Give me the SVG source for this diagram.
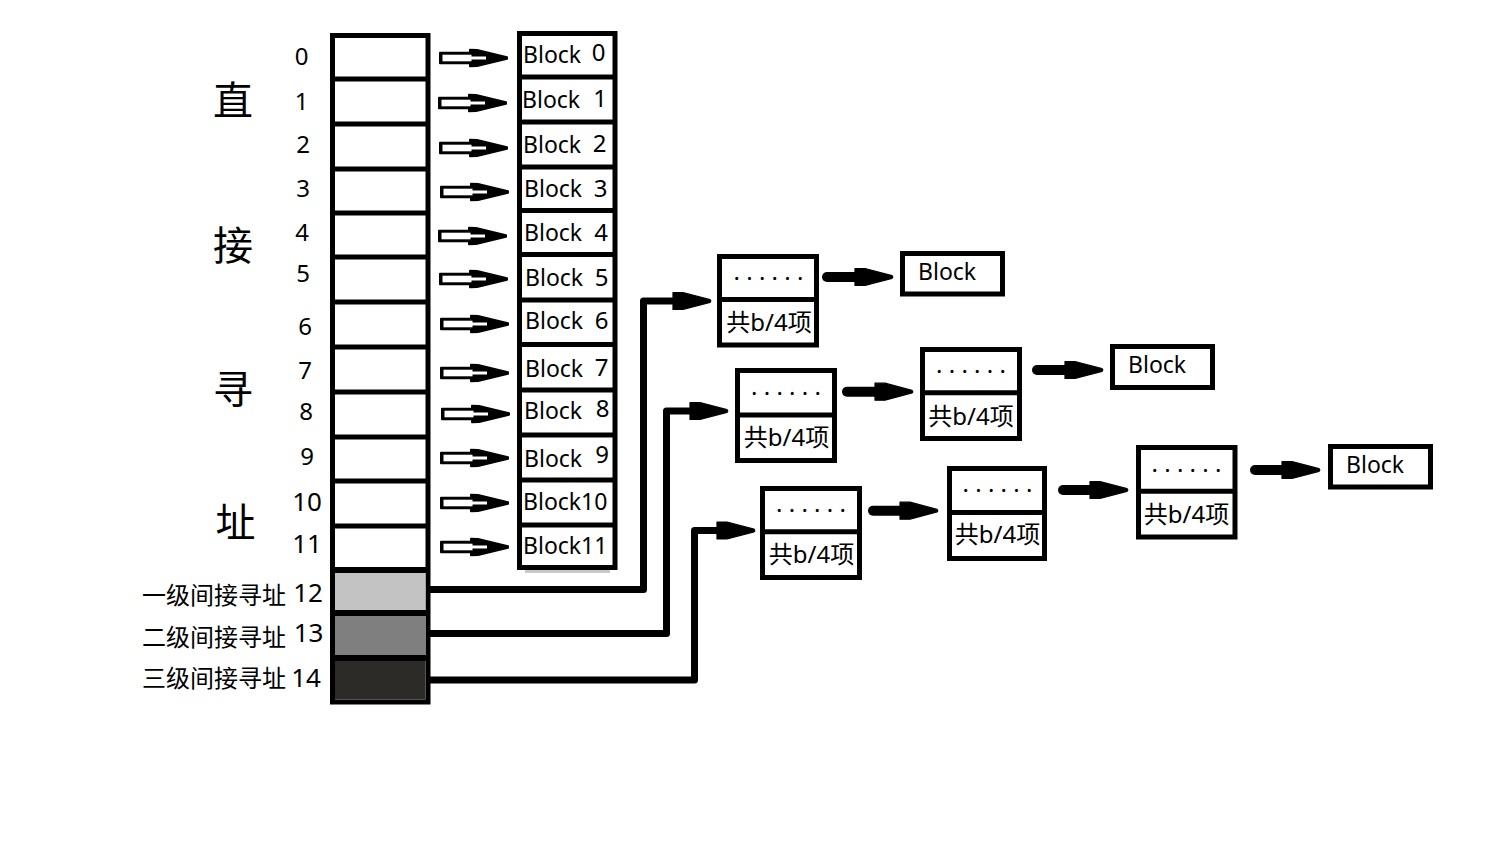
<svg xmlns="http://www.w3.org/2000/svg" width="1489" height="844" viewBox="0 0 1489 844">
<style>
.cell{fill:#fff;stroke:#000;stroke-width:5}
.div{stroke:#000;stroke-width:5}
.t{font-family:"Noto Sans","Noto Sans CJK SC",sans-serif;fill:#000}
.blk{font-size:23px}
.num{font-size:24px;text-anchor:middle}
.num2{font-size:26px;text-anchor:middle}
.big{font-family:"Noto Sans CJK SC",sans-serif;font-size:40px;text-anchor:middle;dominant-baseline:central}
.lbl{font-family:"Noto Sans CJK SC",sans-serif;font-size:24px}
.dots{font-size:24px;text-anchor:middle}
.cnt{font-size:24px;text-anchor:middle}
.elbow{fill:none;stroke:#000;stroke-width:7;stroke-linejoin:round;marker-end:url(#head)}
.thick{fill:none;stroke:#000;stroke-width:10;stroke-linecap:round;marker-end:url(#head)}
</style>
<defs>
<marker id="head" markerUnits="userSpaceOnUse" viewBox="-1 -10 42 20" refX="0" refY="0" markerWidth="42" markerHeight="20" orient="auto">
<path d="M0,-8.5 L10,-8.5 L37,-1.3 Q38.5,0 37,1.3 L10,8.5 L0,8.5 Z" fill="#000" stroke="#000" stroke-width="1.2" stroke-linejoin="round"/>
</marker>
<g id="harrow">
<path d="M1,-5.3 L31,-5.3 L31,-8.3 L38,-8 L68,-0.8 L68,0.8 L38,8 L31,8.3 L31,5.3 L1,5.3 Z" fill="#000" stroke="#000" stroke-width="2" stroke-linejoin="round"/>
<rect x="3.5" y="-3.3" width="29" height="6.6" fill="#fff"/>
<rect x="30" y="-1.5" width="17" height="3" fill="#fff"/>
</g>
</defs>
<rect width="1489" height="844" fill="#fff"/>

<g id="side-labels">
<text class="big" x="233" y="97.5">直</text>
<text class="big" x="233" y="242.5">接</text>
<text class="big" x="233" y="386.5">寻</text>
<text class="big" x="235.5" y="520">址</text>
<text class="t num" x="301.5" y="65">0</text>
<text class="t num" x="301.5" y="110">1</text>
<text class="t num" x="303" y="153">2</text>
<text class="t num" x="303" y="197">3</text>
<text class="t num" x="302" y="241">4</text>
<text class="t num" x="303" y="282">5</text>
<text class="t num" x="305" y="335">6</text>
<text class="t num" x="305" y="379">7</text>
<text class="t num" x="306" y="420">8</text>
<text class="t num" x="307" y="465">9</text>
<text class="t num2" x="307" y="511">10</text>
<text class="t num2" x="307" y="553">11</text>
<text class="lbl" x="142" y="604">一级间接寻址</text>
<text class="lbl" x="142" y="646">二级间接寻址</text>
<text class="lbl" x="142" y="687">三级间接寻址</text>
<text class="t num2" x="308" y="602">12</text>
<text class="t num2" x="308.5" y="642">13</text>
<text class="t num2" x="306" y="687">14</text>
</g>

<g id="inode">
<rect class="cell" x="332.5" y="35.5" width="95.5" height="666.5"/>
<rect x="335" y="570" width="90.5" height="43" fill="#c3c3c3"/>
<rect x="335" y="613" width="90.5" height="45" fill="#7f7f7f"/>
<rect x="335" y="658" width="90.5" height="41.5" fill="#2d2b27"/>
<g class="div">
<line x1="332.5" y1="79" x2="428" y2="79"/>
<line x1="332.5" y1="124" x2="428" y2="124"/>
<line x1="332.5" y1="169" x2="428" y2="169"/>
<line x1="332.5" y1="213" x2="428" y2="213"/>
<line x1="332.5" y1="257" x2="428" y2="257"/>
<line x1="332.5" y1="302" x2="428" y2="302"/>
<line x1="332.5" y1="347" x2="428" y2="347"/>
<line x1="332.5" y1="392" x2="428" y2="392"/>
<line x1="332.5" y1="437" x2="428" y2="437"/>
<line x1="332.5" y1="481" x2="428" y2="481"/>
<line x1="332.5" y1="526" x2="428" y2="526"/>
<line x1="332.5" y1="570" x2="428" y2="570" stroke-width="6"/>
<line x1="332.5" y1="613" x2="428" y2="613" stroke-width="6"/>
<line x1="332.5" y1="658" x2="428" y2="658" stroke-width="6"/>
</g>
</g>

<g id="direct-blocks">
<rect x="525" y="570" width="85" height="3" fill="#c8c8c8"/>
<rect class="cell" x="519.5" y="33.5" width="95.5" height="534"/>
<g class="div">
<line x1="519.5" y1="77" x2="615" y2="77"/>
<line x1="519.5" y1="122" x2="615" y2="122"/>
<line x1="519.5" y1="167" x2="615" y2="167"/>
<line x1="519.5" y1="210.5" x2="615" y2="210.5"/>
<line x1="519.5" y1="254.5" x2="615" y2="254.5"/>
<line x1="519.5" y1="300" x2="615" y2="300"/>
<line x1="519.5" y1="344.5" x2="615" y2="344.5"/>
<line x1="519.5" y1="390" x2="615" y2="390"/>
<line x1="519.5" y1="435" x2="615" y2="435"/>
<line x1="519.5" y1="480" x2="615" y2="480"/>
<line x1="519.5" y1="525" x2="615" y2="525"/>
</g>
<text class="t blk" x="523" y="63.3">Block</text><text class="t num" x="598.5" y="61">0</text>
<text class="t blk" x="522" y="108.3">Block</text><text class="t num" x="600" y="106.7">1</text>
<text class="t blk" x="523" y="153">Block</text><text class="t num" x="599.5" y="152">2</text>
<text class="t blk" x="524" y="197">Block</text><text class="t num" x="600.5" y="197">3</text>
<text class="t blk" x="524" y="240.7">Block</text><text class="t num" x="601" y="240.7">4</text>
<text class="t blk" x="525" y="286">Block</text><text class="t num" x="601.5" y="286">5</text>
<text class="t blk" x="525" y="329">Block</text><text class="t num" x="601.5" y="329">6</text>
<text class="t blk" x="525" y="376.7">Block</text><text class="t num" x="601.5" y="376">7</text>
<text class="t blk" x="524" y="419">Block</text><text class="t num" x="602.5" y="417">8</text>
<text class="t blk" x="524" y="467">Block</text><text class="t num" x="602" y="463">9</text>
<text class="t blk" x="523" y="510">Block10</text>
<text class="t blk" x="523" y="554">Block11</text>
</g>

<g id="direct-arrows">
<use href="#harrow" x="439" y="58"/>
<use href="#harrow" x="438" y="103"/>
<use href="#harrow" x="439" y="148"/>
<use href="#harrow" x="440" y="192"/>
<use href="#harrow" x="438" y="236"/>
<use href="#harrow" x="439" y="279"/>
<use href="#harrow" x="440" y="324"/>
<use href="#harrow" x="440" y="373"/>
<use href="#harrow" x="441" y="414"/>
<use href="#harrow" x="440" y="458"/>
<use href="#harrow" x="440" y="503"/>
<use href="#harrow" x="440" y="547"/>
</g>

<g id="single-indirect">
<rect class="cell" x="719.5" y="256.5" width="97" height="88.5"/>
<line class="div" x1="719.5" y1="299.5" x2="816.5" y2="299.5"/>
<text class="t dots" x="768.5" y="279.5">. . . . . .</text>
<text class="t cnt" x="769" y="331">共b/4项</text>
</g>
<g id="single-block">
<rect class="cell" x="902.5" y="253.5" width="100" height="40.5"/>
<text class="t blk" x="918" y="280" font-size="24">Block</text>
</g>

<g id="double-indirect-1">
<rect class="cell" x="737.5" y="370.5" width="97" height="90"/>
<line class="div" x1="737.5" y1="415" x2="834.5" y2="415"/>
<text class="t dots" x="786" y="395">. . . . . .</text>
<text class="t cnt" x="786.5" y="446">共b/4项</text>
</g>
<g id="double-indirect-2">
<rect class="cell" x="922.5" y="349.5" width="97" height="89"/>
<line class="div" x1="922.5" y1="392.7" x2="1019.5" y2="392.7"/>
<text class="t dots" x="971" y="373">. . . . . .</text>
<text class="t cnt" x="971" y="425">共b/4项</text>
</g>
<g id="double-block">
<rect class="cell" x="1112.5" y="346.5" width="100" height="41"/>
<text class="t blk" x="1128" y="373.3" font-size="24">Block</text>
</g>

<g id="triple-indirect-1">
<rect class="cell" x="762.5" y="488.5" width="97" height="89"/>
<line class="div" x1="762.5" y1="531.7" x2="859.5" y2="531.7"/>
<text class="t dots" x="811" y="511.5">. . . . . .</text>
<text class="t cnt" x="811.5" y="563">共b/4项</text>
</g>
<g id="triple-indirect-2">
<rect class="cell" x="949.5" y="468.5" width="95" height="90"/>
<line class="div" x1="949.5" y1="512.5" x2="1044.5" y2="512.5"/>
<text class="t dots" x="997.5" y="492">. . . . . .</text>
<text class="t cnt" x="997.5" y="543">共b/4项</text>
</g>
<g id="triple-indirect-3">
<rect class="cell" x="1138.5" y="447.5" width="96.5" height="89.5"/>
<line class="div" x1="1138.5" y1="491.3" x2="1235" y2="491.3"/>
<text class="t dots" x="1186.5" y="471.5">. . . . . .</text>
<text class="t cnt" x="1186.5" y="523">共b/4项</text>
</g>
<g id="triple-block">
<rect class="cell" x="1330.5" y="446.5" width="100" height="40.5"/>
<text class="t blk" x="1346" y="472.7" font-size="24">Block</text>
</g>

<g id="connectors">
<path class="elbow" d="M430,589.5 H643.5 V301 H673"/>
<path class="elbow" d="M430,633.5 H666.5 V411 H690"/>
<path class="elbow" d="M430,680 H694.5 V530.5 H717"/>
<path class="thick" d="M827,277 H855"/>
<path class="thick" d="M847,391.7 H875"/>
<path class="thick" d="M1037,370 H1065"/>
<path class="thick" d="M873,510.7 H900"/>
<path class="thick" d="M1063,490 H1090"/>
<path class="thick" d="M1255,470 H1282"/>
</g>
</svg>
